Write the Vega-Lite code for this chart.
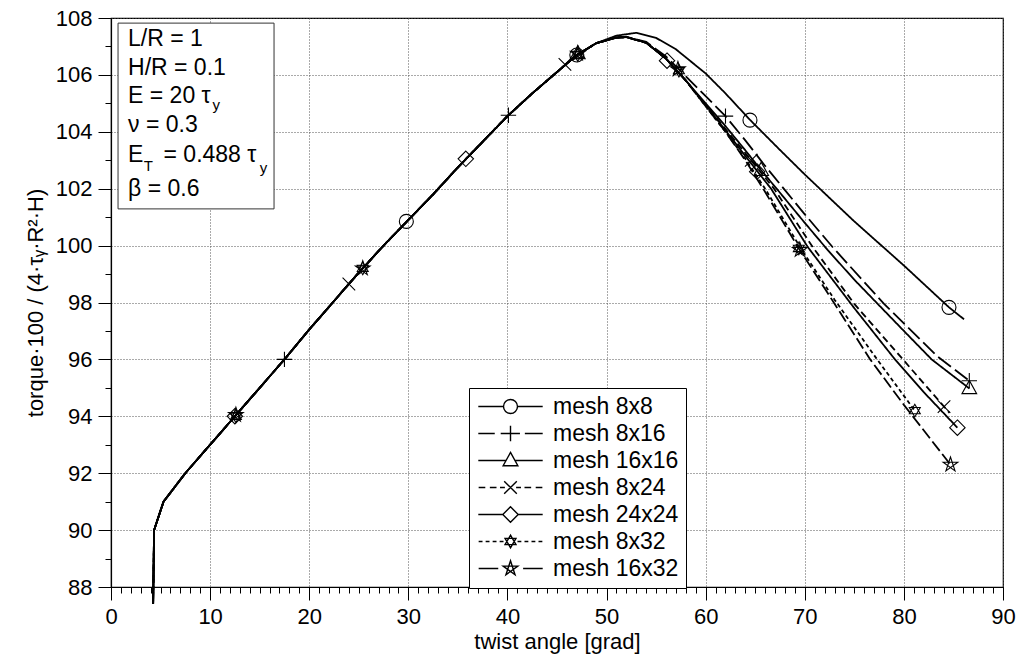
{
  "$schema": "https://vega.github.io/schema/vega-lite/v6.json",
  "width": 892,
  "height": 569,
  "autosize": {"type": "none"},
  "padding": {"left": 111, "top": 18, "right": 14, "bottom": 71},
  "background": "white",
  "config": {
    "font": "Liberation Sans",
    "view": {"stroke": "black", "strokeWidth": 1.2},
    "axis": {"labelColor": "black", "titleColor": "black", "tickColor": "black", "domainColor": "black", "titleFontWeight": "normal", "labelFont": "Liberation Sans", "titleFont": "Liberation Sans"}
  },
  "datasets": {
    "curves": [
      {"series": "mesh 8x8", "angle": 4.25, "torque": 87.4}, {"series": "mesh 8x8", "angle": 4.35, "torque": 90.0}, {"series": "mesh 8x8", "angle": 5.3, "torque": 91.0}, {"series": "mesh 8x8", "angle": 7.5, "torque": 92.0}, {"series": "mesh 8x8", "angle": 10, "torque": 93.0}, {"series": "mesh 8x8", "angle": 12.5, "torque": 94.0}, {"series": "mesh 8x8", "angle": 15, "torque": 95.0}, {"series": "mesh 8x8", "angle": 17.5, "torque": 96.0}, {"series": "mesh 8x8", "angle": 20, "torque": 97.05}, {"series": "mesh 8x8", "angle": 22.5, "torque": 98.05}, {"series": "mesh 8x8", "angle": 25, "torque": 99.05}, {"series": "mesh 8x8", "angle": 27.5, "torque": 100.0}, {"series": "mesh 8x8", "angle": 30, "torque": 100.9}, {"series": "mesh 8x8", "angle": 32.5, "torque": 101.8}, {"series": "mesh 8x8", "angle": 35, "torque": 102.75}, {"series": "mesh 8x8", "angle": 37.5, "torque": 103.65}, {"series": "mesh 8x8", "angle": 40, "torque": 104.55}, {"series": "mesh 8x8", "angle": 42.5, "torque": 105.35}, {"series": "mesh 8x8", "angle": 45, "torque": 106.1}, {"series": "mesh 8x8", "angle": 47, "torque": 106.7}, {"series": "mesh 8x8", "angle": 49, "torque": 107.12}, {"series": "mesh 8x8", "angle": 51, "torque": 107.38}, {"series": "mesh 8x8", "angle": 53, "torque": 107.48}, {"series": "mesh 8x8", "angle": 55, "torque": 107.3}, {"series": "mesh 8x8", "angle": 57, "torque": 106.9}, {"series": "mesh 8x8", "angle": 60, "torque": 106.05}, {"series": "mesh 8x8", "angle": 62, "torque": 105.35}, {"series": "mesh 8x8", "angle": 64.5, "torque": 104.41}, {"series": "mesh 8x8", "angle": 67.5, "torque": 103.36}, {"series": "mesh 8x8", "angle": 70, "torque": 102.5}, {"series": "mesh 8x8", "angle": 75, "torque": 100.85}, {"series": "mesh 8x8", "angle": 80, "torque": 99.3}, {"series": "mesh 8x8", "angle": 84.55, "torque": 97.83}, {"series": "mesh 8x8", "angle": 86.07, "torque": 97.41},

      {"series": "mesh 8x16", "angle": 4.25, "torque": 87.4}, {"series": "mesh 8x16", "angle": 4.35, "torque": 90.0}, {"series": "mesh 8x16", "angle": 5.3, "torque": 91.0}, {"series": "mesh 8x16", "angle": 7.5, "torque": 92.0}, {"series": "mesh 8x16", "angle": 10, "torque": 93.0}, {"series": "mesh 8x16", "angle": 12.5, "torque": 94.0}, {"series": "mesh 8x16", "angle": 15, "torque": 95.0}, {"series": "mesh 8x16", "angle": 17.5, "torque": 96.0}, {"series": "mesh 8x16", "angle": 20, "torque": 97.05}, {"series": "mesh 8x16", "angle": 22.5, "torque": 98.05}, {"series": "mesh 8x16", "angle": 25, "torque": 99.05}, {"series": "mesh 8x16", "angle": 27.5, "torque": 100.0}, {"series": "mesh 8x16", "angle": 30, "torque": 100.9}, {"series": "mesh 8x16", "angle": 32.5, "torque": 101.8}, {"series": "mesh 8x16", "angle": 35, "torque": 102.75}, {"series": "mesh 8x16", "angle": 37.5, "torque": 103.65}, {"series": "mesh 8x16", "angle": 40, "torque": 104.55}, {"series": "mesh 8x16", "angle": 42.5, "torque": 105.35}, {"series": "mesh 8x16", "angle": 45, "torque": 106.1}, {"series": "mesh 8x16", "angle": 47, "torque": 106.7}, {"series": "mesh 8x16", "angle": 49, "torque": 107.12}, {"series": "mesh 8x16", "angle": 51, "torque": 107.31}, {"series": "mesh 8x16", "angle": 52, "torque": 107.34}, {"series": "mesh 8x16", "angle": 54, "torque": 107.16}, {"series": "mesh 8x16", "angle": 56, "torque": 106.65}, {"series": "mesh 8x16", "angle": 58, "torque": 105.95}, {"series": "mesh 8x16", "angle": 60, "torque": 105.25}, {"series": "mesh 8x16", "angle": 62, "torque": 104.55}, {"series": "mesh 8x16", "angle": 64, "torque": 103.7}, {"series": "mesh 8x16", "angle": 66, "torque": 102.8}, {"series": "mesh 8x16", "angle": 68, "torque": 101.95}, {"series": "mesh 8x16", "angle": 70, "torque": 101.1}, {"series": "mesh 8x16", "angle": 72.8, "torque": 99.95}, {"series": "mesh 8x16", "angle": 78, "torque": 97.95}, {"series": "mesh 8x16", "angle": 83.4, "torque": 96.1}, {"series": "mesh 8x16", "angle": 86.6, "torque": 95.25},

      {"series": "mesh 16x16", "angle": 4.25, "torque": 87.4}, {"series": "mesh 16x16", "angle": 4.35, "torque": 90.0}, {"series": "mesh 16x16", "angle": 5.3, "torque": 91.0}, {"series": "mesh 16x16", "angle": 7.5, "torque": 92.0}, {"series": "mesh 16x16", "angle": 10, "torque": 93.0}, {"series": "mesh 16x16", "angle": 12.5, "torque": 94.0}, {"series": "mesh 16x16", "angle": 15, "torque": 95.0}, {"series": "mesh 16x16", "angle": 17.5, "torque": 96.0}, {"series": "mesh 16x16", "angle": 20, "torque": 97.05}, {"series": "mesh 16x16", "angle": 22.5, "torque": 98.05}, {"series": "mesh 16x16", "angle": 25, "torque": 99.05}, {"series": "mesh 16x16", "angle": 27.5, "torque": 100.0}, {"series": "mesh 16x16", "angle": 30, "torque": 100.9}, {"series": "mesh 16x16", "angle": 32.5, "torque": 101.8}, {"series": "mesh 16x16", "angle": 35, "torque": 102.75}, {"series": "mesh 16x16", "angle": 37.5, "torque": 103.65}, {"series": "mesh 16x16", "angle": 40, "torque": 104.55}, {"series": "mesh 16x16", "angle": 42.5, "torque": 105.35}, {"series": "mesh 16x16", "angle": 45, "torque": 106.1}, {"series": "mesh 16x16", "angle": 47, "torque": 106.7}, {"series": "mesh 16x16", "angle": 49, "torque": 107.12}, {"series": "mesh 16x16", "angle": 51, "torque": 107.31}, {"series": "mesh 16x16", "angle": 52, "torque": 107.33}, {"series": "mesh 16x16", "angle": 54, "torque": 107.13}, {"series": "mesh 16x16", "angle": 56, "torque": 106.57}, {"series": "mesh 16x16", "angle": 58, "torque": 105.8}, {"series": "mesh 16x16", "angle": 60, "torque": 105.0}, {"series": "mesh 16x16", "angle": 62, "torque": 104.2}, {"series": "mesh 16x16", "angle": 64, "torque": 103.35}, {"series": "mesh 16x16", "angle": 65.6, "torque": 102.65}, {"series": "mesh 16x16", "angle": 67.4, "torque": 101.9}, {"series": "mesh 16x16", "angle": 70, "torque": 100.8}, {"series": "mesh 16x16", "angle": 72.3, "torque": 99.85}, {"series": "mesh 16x16", "angle": 75, "torque": 98.8}, {"series": "mesh 16x16", "angle": 80, "torque": 97.0}, {"series": "mesh 16x16", "angle": 82.8, "torque": 96.0}, {"series": "mesh 16x16", "angle": 86.6, "torque": 94.98},

      {"series": "mesh 8x24", "angle": 4.25, "torque": 87.4}, {"series": "mesh 8x24", "angle": 4.35, "torque": 90.0}, {"series": "mesh 8x24", "angle": 5.3, "torque": 91.0}, {"series": "mesh 8x24", "angle": 7.5, "torque": 92.0}, {"series": "mesh 8x24", "angle": 10, "torque": 93.0}, {"series": "mesh 8x24", "angle": 12.5, "torque": 94.0}, {"series": "mesh 8x24", "angle": 15, "torque": 95.0}, {"series": "mesh 8x24", "angle": 17.5, "torque": 96.0}, {"series": "mesh 8x24", "angle": 20, "torque": 97.05}, {"series": "mesh 8x24", "angle": 22.5, "torque": 98.05}, {"series": "mesh 8x24", "angle": 25, "torque": 99.05}, {"series": "mesh 8x24", "angle": 27.5, "torque": 100.0}, {"series": "mesh 8x24", "angle": 30, "torque": 100.9}, {"series": "mesh 8x24", "angle": 32.5, "torque": 101.8}, {"series": "mesh 8x24", "angle": 35, "torque": 102.75}, {"series": "mesh 8x24", "angle": 37.5, "torque": 103.65}, {"series": "mesh 8x24", "angle": 40, "torque": 104.55}, {"series": "mesh 8x24", "angle": 42.5, "torque": 105.35}, {"series": "mesh 8x24", "angle": 45, "torque": 106.1}, {"series": "mesh 8x24", "angle": 47, "torque": 106.7}, {"series": "mesh 8x24", "angle": 49, "torque": 107.12}, {"series": "mesh 8x24", "angle": 51, "torque": 107.31}, {"series": "mesh 8x24", "angle": 52, "torque": 107.33}, {"series": "mesh 8x24", "angle": 54, "torque": 107.13}, {"series": "mesh 8x24", "angle": 56, "torque": 106.57}, {"series": "mesh 8x24", "angle": 58, "torque": 105.8}, {"series": "mesh 8x24", "angle": 60, "torque": 104.95}, {"series": "mesh 8x24", "angle": 62, "torque": 104.1}, {"series": "mesh 8x24", "angle": 64, "torque": 103.25}, {"series": "mesh 8x24", "angle": 66.9, "torque": 102.0}, {"series": "mesh 8x24", "angle": 70.8, "torque": 99.95}, {"series": "mesh 8x24", "angle": 75, "torque": 97.95}, {"series": "mesh 8x24", "angle": 79.9, "torque": 96.0}, {"series": "mesh 8x24", "angle": 84.05, "torque": 94.34}, {"series": "mesh 8x24", "angle": 84.6, "torque": 94.12},

      {"series": "mesh 24x24", "angle": 4.25, "torque": 87.4}, {"series": "mesh 24x24", "angle": 4.35, "torque": 90.0}, {"series": "mesh 24x24", "angle": 5.3, "torque": 91.0}, {"series": "mesh 24x24", "angle": 7.5, "torque": 92.0}, {"series": "mesh 24x24", "angle": 10, "torque": 93.0}, {"series": "mesh 24x24", "angle": 12.5, "torque": 94.0}, {"series": "mesh 24x24", "angle": 15, "torque": 95.0}, {"series": "mesh 24x24", "angle": 17.5, "torque": 96.0}, {"series": "mesh 24x24", "angle": 20, "torque": 97.05}, {"series": "mesh 24x24", "angle": 22.5, "torque": 98.05}, {"series": "mesh 24x24", "angle": 25, "torque": 99.05}, {"series": "mesh 24x24", "angle": 27.5, "torque": 100.0}, {"series": "mesh 24x24", "angle": 30, "torque": 100.9}, {"series": "mesh 24x24", "angle": 32.5, "torque": 101.8}, {"series": "mesh 24x24", "angle": 35, "torque": 102.75}, {"series": "mesh 24x24", "angle": 37.5, "torque": 103.65}, {"series": "mesh 24x24", "angle": 40, "torque": 104.55}, {"series": "mesh 24x24", "angle": 42.5, "torque": 105.35}, {"series": "mesh 24x24", "angle": 45, "torque": 106.1}, {"series": "mesh 24x24", "angle": 47, "torque": 106.7}, {"series": "mesh 24x24", "angle": 49, "torque": 107.12}, {"series": "mesh 24x24", "angle": 51, "torque": 107.31}, {"series": "mesh 24x24", "angle": 52, "torque": 107.33}, {"series": "mesh 24x24", "angle": 54, "torque": 107.13}, {"series": "mesh 24x24", "angle": 56, "torque": 106.57}, {"series": "mesh 24x24", "angle": 58, "torque": 105.8}, {"series": "mesh 24x24", "angle": 60, "torque": 104.95}, {"series": "mesh 24x24", "angle": 62, "torque": 104.05}, {"series": "mesh 24x24", "angle": 64, "torque": 103.15}, {"series": "mesh 24x24", "angle": 66.6, "torque": 102.0}, {"series": "mesh 24x24", "angle": 70.3, "torque": 99.95}, {"series": "mesh 24x24", "angle": 75, "torque": 97.8}, {"series": "mesh 24x24", "angle": 79.1, "torque": 96.0}, {"series": "mesh 24x24", "angle": 82, "torque": 94.85}, {"series": "mesh 24x24", "angle": 85.4, "torque": 93.6},

      {"series": "mesh 8x32", "angle": 4.25, "torque": 87.4}, {"series": "mesh 8x32", "angle": 4.35, "torque": 90.0}, {"series": "mesh 8x32", "angle": 5.3, "torque": 91.0}, {"series": "mesh 8x32", "angle": 7.5, "torque": 92.0}, {"series": "mesh 8x32", "angle": 10, "torque": 93.0}, {"series": "mesh 8x32", "angle": 12.5, "torque": 94.0}, {"series": "mesh 8x32", "angle": 15, "torque": 95.0}, {"series": "mesh 8x32", "angle": 17.5, "torque": 96.0}, {"series": "mesh 8x32", "angle": 20, "torque": 97.05}, {"series": "mesh 8x32", "angle": 22.5, "torque": 98.05}, {"series": "mesh 8x32", "angle": 25, "torque": 99.05}, {"series": "mesh 8x32", "angle": 27.5, "torque": 100.0}, {"series": "mesh 8x32", "angle": 30, "torque": 100.9}, {"series": "mesh 8x32", "angle": 32.5, "torque": 101.8}, {"series": "mesh 8x32", "angle": 35, "torque": 102.75}, {"series": "mesh 8x32", "angle": 37.5, "torque": 103.65}, {"series": "mesh 8x32", "angle": 40, "torque": 104.55}, {"series": "mesh 8x32", "angle": 42.5, "torque": 105.35}, {"series": "mesh 8x32", "angle": 45, "torque": 106.1}, {"series": "mesh 8x32", "angle": 47, "torque": 106.7}, {"series": "mesh 8x32", "angle": 49, "torque": 107.12}, {"series": "mesh 8x32", "angle": 51, "torque": 107.31}, {"series": "mesh 8x32", "angle": 52, "torque": 107.33}, {"series": "mesh 8x32", "angle": 54, "torque": 107.13}, {"series": "mesh 8x32", "angle": 56, "torque": 106.57}, {"series": "mesh 8x32", "angle": 58, "torque": 105.8}, {"series": "mesh 8x32", "angle": 60, "torque": 104.9}, {"series": "mesh 8x32", "angle": 62, "torque": 104.0}, {"series": "mesh 8x32", "angle": 64, "torque": 103.05}, {"series": "mesh 8x32", "angle": 66, "torque": 102.0}, {"series": "mesh 8x32", "angle": 69.6, "torque": 99.9}, {"series": "mesh 8x32", "angle": 73, "torque": 98.1}, {"series": "mesh 8x32", "angle": 77.3, "torque": 96.0}, {"series": "mesh 8x32", "angle": 81.1, "torque": 94.2},

      {"series": "mesh 16x32", "angle": 4.25, "torque": 87.4}, {"series": "mesh 16x32", "angle": 4.35, "torque": 90.0}, {"series": "mesh 16x32", "angle": 5.3, "torque": 91.0}, {"series": "mesh 16x32", "angle": 7.5, "torque": 92.0}, {"series": "mesh 16x32", "angle": 10, "torque": 93.0}, {"series": "mesh 16x32", "angle": 12.5, "torque": 94.0}, {"series": "mesh 16x32", "angle": 15, "torque": 95.0}, {"series": "mesh 16x32", "angle": 17.5, "torque": 96.0}, {"series": "mesh 16x32", "angle": 20, "torque": 97.05}, {"series": "mesh 16x32", "angle": 22.5, "torque": 98.05}, {"series": "mesh 16x32", "angle": 25, "torque": 99.05}, {"series": "mesh 16x32", "angle": 27.5, "torque": 100.0}, {"series": "mesh 16x32", "angle": 30, "torque": 100.9}, {"series": "mesh 16x32", "angle": 32.5, "torque": 101.8}, {"series": "mesh 16x32", "angle": 35, "torque": 102.75}, {"series": "mesh 16x32", "angle": 37.5, "torque": 103.65}, {"series": "mesh 16x32", "angle": 40, "torque": 104.55}, {"series": "mesh 16x32", "angle": 42.5, "torque": 105.35}, {"series": "mesh 16x32", "angle": 45, "torque": 106.1}, {"series": "mesh 16x32", "angle": 47, "torque": 106.7}, {"series": "mesh 16x32", "angle": 49, "torque": 107.12}, {"series": "mesh 16x32", "angle": 51, "torque": 107.31}, {"series": "mesh 16x32", "angle": 52, "torque": 107.33}, {"series": "mesh 16x32", "angle": 54, "torque": 107.13}, {"series": "mesh 16x32", "angle": 56, "torque": 106.57}, {"series": "mesh 16x32", "angle": 58, "torque": 105.8}, {"series": "mesh 16x32", "angle": 60, "torque": 104.9}, {"series": "mesh 16x32", "angle": 62, "torque": 104.0}, {"series": "mesh 16x32", "angle": 64, "torque": 103.0}, {"series": "mesh 16x32", "angle": 65.8, "torque": 102.0}, {"series": "mesh 16x32", "angle": 69.4, "torque": 99.9}, {"series": "mesh 16x32", "angle": 72, "torque": 98.5}, {"series": "mesh 16x32", "angle": 76.6, "torque": 96.0}, {"series": "mesh 16x32", "angle": 80, "torque": 94.4}, {"series": "mesh 16x32", "angle": 84.7, "torque": 92.3}
    ],
    "markers": [
      {"series": "mesh 8x8", "angle": 29.8, "torque": 100.85}, {"series": "mesh 8x8", "angle": 47, "torque": 106.7}, {"series": "mesh 8x8", "angle": 64.47, "torque": 104.41}, {"series": "mesh 8x8", "angle": 84.55, "torque": 97.83},
      {"series": "mesh 8x16", "angle": 17.5, "torque": 96.0}, {"series": "mesh 8x16", "angle": 40.1, "torque": 104.58}, {"series": "mesh 8x16", "angle": 62, "torque": 104.55}, {"series": "mesh 8x16", "angle": 86.6, "torque": 95.25},
      {"series": "mesh 16x16", "angle": 47.1, "torque": 106.75}, {"series": "mesh 16x16", "angle": 65.6, "torque": 102.65}, {"series": "mesh 16x16", "angle": 86.6, "torque": 94.98},
      {"series": "mesh 8x24", "angle": 24, "torque": 98.65}, {"series": "mesh 8x24", "angle": 45.8, "torque": 106.37}, {"series": "mesh 8x24", "angle": 64.6, "torque": 103.0}, {"series": "mesh 8x24", "angle": 84.05, "torque": 94.34},
      {"series": "mesh 24x24", "angle": 12.5, "torque": 94.0}, {"series": "mesh 24x24", "angle": 35.8, "torque": 103.05}, {"series": "mesh 24x24", "angle": 56.1, "torque": 106.5}, {"series": "mesh 24x24", "angle": 65.2, "torque": 102.6}, {"series": "mesh 24x24", "angle": 85.4, "torque": 93.6},
      {"series": "mesh 8x32", "angle": 12.6, "torque": 94.0}, {"series": "mesh 8x32", "angle": 25.4, "torque": 99.2}, {"series": "mesh 8x32", "angle": 47.1, "torque": 106.7}, {"series": "mesh 8x32", "angle": 57.3, "torque": 106.15}, {"series": "mesh 8x32", "angle": 69.4, "torque": 99.9}, {"series": "mesh 8x32", "angle": 81.1, "torque": 94.2},
      {"series": "mesh 16x32", "angle": 12.6, "torque": 94.05}, {"series": "mesh 16x32", "angle": 25.4, "torque": 99.2}, {"series": "mesh 16x32", "angle": 47.1, "torque": 106.75}, {"series": "mesh 16x32", "angle": 57.2, "torque": 106.2}, {"series": "mesh 16x32", "angle": 69.5, "torque": 99.85}, {"series": "mesh 16x32", "angle": 84.7, "torque": 92.3}
    ],
    "infobox": [{"a1": 0.71, "a2": 16.45, "t1": 101.29, "t2": 107.82}],
    "info": [
      {"angle": 1.72, "torque": 107.0, "text": "L/R = 1"},
      {"angle": 1.72, "torque": 106.0, "text": "H/R = 0.1"},
      {"angle": 1.72, "torque": 105.0, "text": "E = 20 τ"},
      {"angle": 1.72, "torque": 104.0, "text": "ν = 0.3"},
      {"angle": 1.72, "torque": 102.95, "text": "E"},
      {"angle": 5.3, "torque": 102.95, "text": "= 0.488 τ"},
      {"angle": 1.72, "torque": 101.75, "text": "β = 0.6"}
    ],
    "subs": [
      {"angle": 10.25, "torque": 104.78, "text": "y"},
      {"angle": 3.3, "torque": 102.62, "text": "T"},
      {"angle": 15.0, "torque": 102.55, "text": "y"}
    ]
  },
  "layer": [
    {
      "data": {"name": "curves"},
      "mark": {"type": "line", "color": "black", "strokeWidth": 1.8, "clip": false},
      "encoding": {
        "x": {"field": "angle", "type": "quantitative", "scale": {"domain": [0, 90]},
          "axis": {"orient": "bottom", "values": [0, 10, 20, 30, 40, 50, 60, 70, 80, 90], "tickSize": 13, "tickWidth": 1, "domainWidth": 1.2, "labelFontSize": 22, "labelPadding": 6, "labelFlush": false, "title": "twist angle [grad]", "titleFontSize": 22, "titlePadding": 4, "grid": true, "gridColor": "#555", "gridDash": [1, 2], "gridWidth": 1}},
        "y": {"field": "torque", "type": "quantitative", "scale": {"domain": [88, 108]},
          "axis": {"orient": "left", "values": [88, 90, 92, 94, 96, 98, 100, 102, 104, 106, 108], "tickSize": 13, "tickWidth": 1, "domainWidth": 1.2, "labelFontSize": 22, "labelPadding": 6, "labelFlush": false, "title": "torque·100 / (4·τᵧ·R²·H)", "titleFontSize": 22, "titlePadding": 8, "grid": true, "gridColor": "#555", "gridDash": [1, 2], "gridWidth": 1}},
        "detail": {"field": "series", "type": "nominal"},
        "strokeDash": {"field": "series", "type": "nominal",
          "scale": {"domain": ["mesh 8x8", "mesh 8x16", "mesh 16x16", "mesh 8x24", "mesh 24x24", "mesh 8x32", "mesh 16x32"],
            "range": [[1, 0], [16, 5], [1, 0], [7, 4], [1, 0], [4, 3], [12, 4]]},
          "legend": null}
      }
    },
    {
      "data": {"name": "markers"},
      "mark": {"type": "point", "filled": false, "color": "black", "strokeWidth": 1.1, "size": 196, "opacity": 1, "clip": false},
      "encoding": {
        "x": {"field": "angle", "type": "quantitative", "scale": {"domain": [0, 90]},
          "axis": {"orient": "bottom", "values": [0,1,2,3,4,5,6,7,8,9,10,11,12,13,14,15,16,17,18,19,20,21,22,23,24,25,26,27,28,29,30,31,32,33,34,35,36,37,38,39,40,41,42,43,44,45,46,47,48,49,50,51,52,53,54,55,56,57,58,59,60,61,62,63,64,65,66,67,68,69,70,71,72,73,74,75,76,77,78,79,80,81,82,83,84,85,86,87,88,89,90], "tickSize": 6, "labels": false, "domain": false, "grid": false, "title": null}},
        "y": {"field": "torque", "type": "quantitative", "scale": {"domain": [88, 108]},
          "axis": {"orient": "left", "values": [88,89,90,91,92,93,94,95,96,97,98,99,100,101,102,103,104,105,106,107,108], "tickSize": 6, "labels": false, "domain": false, "grid": false, "title": null}},
        "shape": {"field": "series", "type": "nominal",
          "scale": {"domain": ["mesh 8x8", "mesh 8x16", "mesh 16x16", "mesh 8x24", "mesh 24x24", "mesh 8x32", "mesh 16x32"],
            "range": ["circle", "M-1.1,0H1.1M0,-1.1V1.1", "M0,-1.15L1.05,0.75L-1.05,0.75Z", "M-0.9,-0.9L0.9,0.9M-0.9,0.9L0.9,-0.9", "M0,-1.1L1.1,0L0,1.1L-1.1,0Z", "M0,-0.9L0.78,0.45L-0.78,0.45ZM0,0.9L0.78,-0.45L-0.78,-0.45Z", "M0,-1.1L0.647,0.89L-1.046,-0.34L1.046,-0.34L-0.647,0.89Z"]},
          "legend": null}
      }
    },
    {
      "data": {"name": "markers"},
      "transform": [{"filter": "false"}],
      "mark": {"type": "point", "filled": false, "color": "black", "strokeWidth": 1.4, "size": 196, "opacity": 1},
      "encoding": {
        "shape": {"field": "series", "type": "nominal",
          "scale": {"domain": ["mesh 8x8", "mesh 8x16", "mesh 16x16", "mesh 8x24", "mesh 24x24", "mesh 8x32", "mesh 16x32"],
            "range": [
              "M-4.6,0H-1M1,0H4.6M1,0A1,1,0,1,1,-1,0A1,1,0,1,1,1,0",
              "M-4.6,0H-2.25M-1.4,0H1.35M2.05,0H4.6M0,-1.1V1.1",
              "M-4.6,0H-0.64M0.64,0H4.6M0,-1.15L1.05,0.75L-1.05,0.75Z",
              "M-4.55,0H-3.6M-2.95,0H-2M-1.5,0H-0.8M0.8,0H1.5M2,0H2.95M3.6,0H4.55M-0.9,-0.9L0.9,0.9M-0.9,0.9L0.9,-0.9",
              "M-4.6,0H-1.1M1.1,0H4.6M0,-1.1L1.1,0L0,1.1L-1.1,0Z",
              "M-4.55,0H-4M-3.55,0H-3M-2.55,0H-2M-1.55,0H-1M1,0H1.55M2,0H2.55M3,0H3.55M4,0H4.55M0,-0.9L0.78,0.45L-0.78,0.45ZM0,0.9L0.78,-0.45L-0.78,-0.45Z",
              "M-4.55,0H-1.75M1.8,0H4.6M0,-1.1L0.647,0.89L-1.046,-0.34L1.046,-0.34L-0.647,0.89Z"]},
          "legend": {"title": null, "orient": "none", "legendX": 358, "legendY": 370, "padding": 7, "rowPadding": 3, "fillColor": "white", "strokeColor": "black", "symbolSize": 196, "symbolStrokeWidth": 1.4, "symbolStrokeColor": "black", "symbolFillColor": "transparent", "symbolOffset": 23, "labelOffset": 31, "labelFontSize": 23, "labelFont": "Liberation Sans", "labelColor": "black", "labelLimit": 400, "labelExpr": "datum.label + '\u00a0\u00a0\u00a0'"}
        }
      }
    },
    {
      "data": {"name": "infobox"},
      "mark": {"type": "rect", "fill": "white", "stroke": "#333", "strokeWidth": 1},
      "encoding": {
        "x": {"field": "a1", "type": "quantitative", "axis": null},
        "x2": {"field": "a2"},
        "y": {"field": "t1", "type": "quantitative", "axis": null},
        "y2": {"field": "t2"}
      }
    },
    {
      "data": {"name": "info"},
      "mark": {"type": "text", "align": "left", "baseline": "alphabetic", "fontSize": 23, "font": "Liberation Sans", "color": "black"},
      "encoding": {
        "x": {"field": "angle", "type": "quantitative", "axis": null},
        "y": {"field": "torque", "type": "quantitative", "axis": null},
        "text": {"field": "text"}
      }
    },
    {
      "data": {"name": "subs"},
      "mark": {"type": "text", "align": "left", "baseline": "alphabetic", "fontSize": 15, "font": "Liberation Sans", "color": "black"},
      "encoding": {
        "x": {"field": "angle", "type": "quantitative", "axis": null},
        "y": {"field": "torque", "type": "quantitative", "axis": null},
        "text": {"field": "text"}
      }
    }
  ],
  "resolve": {"axis": {"x": "independent", "y": "independent"}, "scale": {"shape": "independent"}, "legend": {"strokeDash": "independent", "shape": "independent"}}
}
